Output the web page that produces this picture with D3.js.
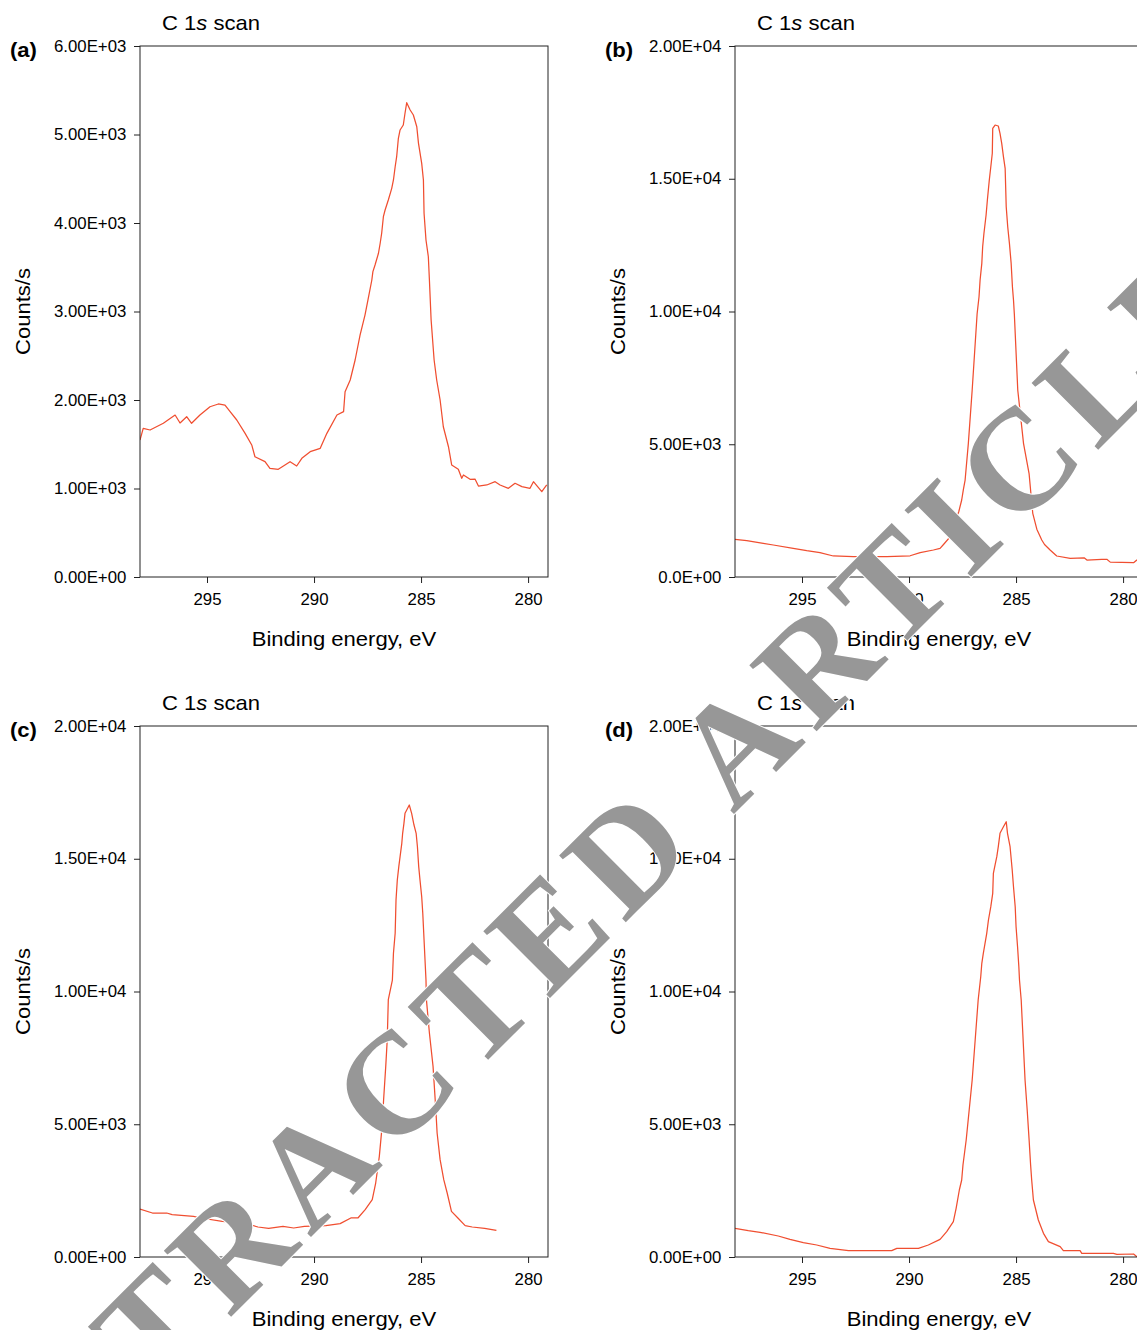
<!DOCTYPE html>
<html>
<head>
<meta charset="utf-8">
<script src="https://cdn.jsdelivr.net/npm/d3@7"></script>
<style>
  html,body{margin:0;padding:0;background:#fff;}
  svg{display:block;}
  text{font-family:"Liberation Sans",Arial,sans-serif;}
</style>
</head>
<body>
<svg id="chart" width="1137" height="1330"></svg>
<script>
// ---------------- DATA ----------------
const xTicks = [295, 290, 285, 280];

const beA = [298.13,297.98,297.66,297.04,296.49,296.26,295.95,295.72,295.33,294.86,294.47,294.16,293.92,293.61,293.22,292.91,292.76,292.29,292.06,291.67,291.43,291.12,290.81,290.57,290.18,289.71,289.40,288.93,288.62,288.55,288.31,288.08,287.85,287.62,287.48,287.30,287.25,287.15,286.99,286.91,286.84,286.76,286.68,286.53,286.37,286.29,286.21,286.14,286.06,285.98,285.83,285.75,285.67,285.51,285.36,285.20,285.12,284.97,284.89,284.86,284.77,284.66,284.61,284.53,284.39,284.27,284.11,283.96,283.72,283.57,283.26,283.10,283.02,282.71,282.48,282.32,281.93,281.54,281.31,280.92,280.61,280.29,279.91,279.75,279.36,279.13];
const cntA = [1548,1680,1661,1737,1830,1740,1811,1737,1830,1924,1955,1943,1868,1774,1623,1492,1359,1303,1228,1217,1254,1303,1254,1341,1416,1454,1623,1830,1868,2094,2226,2452,2734,2960,3130,3356,3450,3525,3658,3771,3884,4071,4147,4260,4392,4486,4636,4749,4957,5051,5107,5240,5360,5277,5220,5088,4900,4674,4486,4110,3808,3619,3356,2904,2452,2226,2000,1698,1472,1266,1217,1115,1153,1104,1107,1028,1040,1077,1040,1002,1059,1021,1002,1077,964,1040];

const beB = [298.13,297.58,296.81,296.34,295.41,294.78,294.16,293.54,292.60,291.04,289.95,289.48,288.86,288.55,288.39,287.93,287.77,287.68,287.54,287.46,287.38,287.23,287.05,286.82,286.73,286.68,286.60,286.56,286.50,286.40,286.34,286.25,286.18,286.11,286.09,285.98,285.83,285.75,285.67,285.59,285.51,285.46,285.39,285.31,285.23,285.17,285.12,285.08,284.92,284.65,284.39,284.26,284.22,284.03,283.80,283.67,283.41,283.10,282.47,281.82,281.69,281.00,280.76,280.60,279.51,279.36,279.07];
const cntB = [1420,1367,1269,1205,1081,991,915,791,765,765,800,915,1017,1081,1224,1650,2271,2448,2900,3303,3653,5024,7043,9906,10557,11186,11815,12440,12945,13635,14200,14953,15454,15959,16900,17024,16987,16710,16335,15831,15393,13947,13194,12567,11815,10934,10433,9898,7032,5024,3880,2731,2400,1800,1394,1224,1017,791,703,723,640,660,665,560,540,640,640];

const beC = [298.13,297.55,296.88,296.63,295.63,295.29,294.29,293.29,292.62,292.12,291.45,290.95,290.45,289.45,288.78,288.28,287.95,287.61,287.28,287.12,286.95,286.82,286.75,286.65,286.58,286.53,286.34,286.29,286.21,286.17,286.11,286.04,285.98,285.90,285.86,285.80,285.75,285.67,285.55,285.44,285.33,285.23,285.17,285.11,285.05,284.97,284.92,284.86,284.80,284.77,284.75,284.61,284.44,284.31,284.25,284.11,283.94,283.78,283.58,283.28,282.94,282.61,282.03,281.48];
const cntC = [1808,1657,1657,1594,1532,1469,1343,1281,1130,1080,1155,1092,1155,1180,1256,1469,1469,1783,2159,2787,3792,4922,5926,7181,8186,9693,10433,11439,12192,13446,14200,14702,15078,15582,15958,16335,16711,16836,17024,16711,16271,15958,15454,14702,14200,13571,12945,11940,10934,10433,9693,8437,7181,5549,4670,3666,2913,2411,1720,1469,1180,1130,1080,1004];

const beD = [298.13,297.51,296.96,296.11,295.56,294.94,294.31,293.69,292.83,291.82,290.81,290.57,289.56,289.10,288.55,288.24,287.93,287.80,287.65,287.54,287.48,287.33,287.19,287.05,286.91,286.77,286.65,286.60,286.53,286.45,286.37,286.29,286.18,286.09,286.06,285.98,285.90,285.83,285.75,285.59,285.46,285.40,285.28,285.18,285.12,285.04,285.00,284.93,284.87,284.84,284.76,284.67,284.58,284.48,284.39,284.32,284.27,284.19,283.96,283.72,283.49,282.94,282.79,282.01,281.93,280.45,280.29,279.51,279.36,279.07];
const cntD = [1080,992,929,791,665,540,452,326,239,239,239,326,326,452,665,954,1331,1833,2523,2900,3465,4407,5537,6667,8173,9680,10557,11062,11439,11815,12192,12693,13194,13698,14452,14765,15078,15454,15958,16207,16396,15958,15454,14576,13948,13194,12441,11687,10934,10433,9680,8173,6667,5537,4407,3465,2900,2147,1394,891,577,389,239,239,138,138,100,113,13,13];

const yTicksA = [0,1000,2000,3000,4000,5000,6000];
const yLabelsA = ["0.00E+00","1.00E+03","2.00E+03","3.00E+03","4.00E+03","5.00E+03","6.00E+03"];
const yTicksB = [0,5000,10000,15000,20000];
const yLabelsB = ["0.0E+00","5.00E+03","1.00E+04","1.50E+04","2.00E+04"];
const yLabelsCD = ["0.00E+00","5.00E+03","1.00E+04","1.50E+04","2.00E+04"];

const panelLetters = ["(a)","(b)","(c)","(d)"];
const titleText = ["C 1", "s", " scan"];
const xTitle = "Binding energy, eV";
const yTitle = "Counts/s";
const watermark = "RETRACTED ARTICLE";

// ---------------- LAYOUT ----------------
const panels = [
  {x0:140, y0:46,  be:beA, cnt:cntA, ymax:6000,  yt:yTicksA, yl:yLabelsA, lab:panelLetters[0]},
  {x0:735, y0:46,  be:beB, cnt:cntB, ymax:20000, yt:yTicksB, yl:yLabelsB, lab:panelLetters[1]},
  {x0:140, y0:726, be:beC, cnt:cntC, ymax:20000, yt:yTicksB, yl:yLabelsCD, lab:panelLetters[2]},
  {x0:735, y0:726, be:beD, cnt:cntD, ymax:20000, yt:yTicksB, yl:yLabelsCD, lab:panelLetters[3]}
];
const PW = 408, PH = 531;
const SX = 1.05; // horizontal stretch of the text
const axisColor = "#222";
const lineColor = "#f04e30";

const svg = d3.select("#chart");
const x = d3.scaleLinear().domain([298.13, 279.07]).range([0, PW]);

panels.forEach((p, i) => {
  const g = svg.append("g").attr("transform", `translate(${p.x0},${p.y0})`);
  const y = d3.scaleLinear().domain([0, p.ymax]).range([PH, 0]);

  g.append("clipPath").attr("id", "clip" + i)
    .append("rect").attr("width", PW).attr("height", PH);

  // data line
  const data = p.be.map((e, k) => [e, p.cnt[k]]);
  g.append("path")
    .datum(data)
    .attr("clip-path", `url(#clip${i})`)
    .attr("fill", "none")
    .attr("stroke", lineColor)
    .attr("stroke-width", 1.25)
    .attr("stroke-linejoin", "round")
    .attr("d", d3.line().x(d => x(d[0])).y(d => y(d[1])));

  // frame
  g.append("rect").attr("width", PW).attr("height", PH)
    .attr("fill", "none").attr("stroke", axisColor).attr("stroke-width", 1);

  // y axis
  const ya = g.append("g").call(
    d3.axisLeft(y).tickValues(p.yt).tickFormat((d, k) => p.yl[k])
      .tickSize(6).tickSizeOuter(0).tickPadding(7));
  ya.select(".domain").remove();
  ya.selectAll("line").attr("stroke", axisColor);
  ya.selectAll("text").style("font-family", '"Liberation Sans",Arial,sans-serif')
    .style("font-size", "16px").style("fill", "#000").attr("transform", `scale(${SX},1)`);

  // x axis
  const xa = g.append("g").attr("transform", `translate(0,${PH})`).call(
    d3.axisBottom(x).tickValues(xTicks).tickFormat(d3.format("d"))
      .tickSize(6).tickSizeOuter(0).tickPadding(11));
  xa.select(".domain").remove();
  xa.selectAll("line").attr("stroke", axisColor);
  xa.selectAll("text").style("font-family", '"Liberation Sans",Arial,sans-serif')
    .style("font-size", "16px").style("fill", "#000").attr("transform", `scale(${SX},1)`);

  // title
  const t = g.append("text")
    .attr("transform", `translate(22,-16) scale(${SX},1)`)
    .style("font-size", "21px").style("fill", "#000");
  t.append("tspan").text(titleText[0]);
  t.append("tspan").style("font-style", "italic").text(titleText[1]);
  t.append("tspan").text(titleText[2]);

  // panel letter
  g.append("text")
    .attr("transform", `translate(-130,11) scale(${SX},1)`)
    .style("font-size", "21px").style("font-weight", "bold").style("fill", "#000")
    .text(p.lab);

  // x title
  g.append("text")
    .attr("transform", `translate(${PW/2},${PH+69}) scale(${SX},1)`)
    .attr("text-anchor", "middle")
    .style("font-size", "21px").style("fill", "#000")
    .text(xTitle);

  // y title
  g.append("text")
    .attr("transform", `translate(-110,${PH/2}) rotate(-90) scale(${SX},1)`)
    .attr("text-anchor", "middle")
    .style("font-size", "21px").style("fill", "#000")
    .text(yTitle);
});

// watermark
svg.append("text")
  .attr("transform", "translate(-4,1552) rotate(-45)")
  .style("font-family", '"Liberation Serif","Times New Roman",serif')
  .style("font-weight", "bold")
  .style("font-size", "144px")
  .style("letter-spacing", "11px")
  .style("fill", "#979797")
  .style("stroke", "#fff")
  .style("stroke-width", "2px")
  .style("paint-order", "stroke")
  .text(watermark);
</script>
</body>
</html>
